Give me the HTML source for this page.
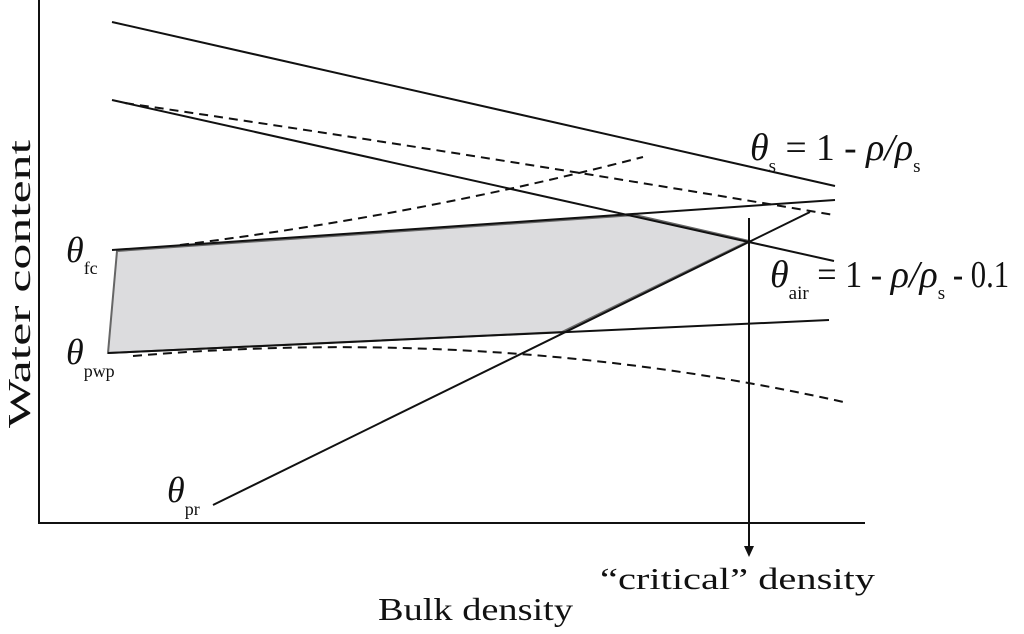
<!DOCTYPE html><html><head><style>body{margin:0;background:#fff}svg{display:block}text{font-family:"Liberation Serif",serif;fill:#111}</style></head><body>
<svg width="1024" height="634" viewBox="0 0 1024 634" xmlns="http://www.w3.org/2000/svg">
<g stroke="#111" stroke-width="2" fill="none">
<polyline points="39,0 39,523 865,523"/>
<polygon points="117,251 635,215 749,241 562,332 108,353" fill="#dcdcde" stroke="#666" stroke-width="2"/>
<line x1="112" y1="22" x2="835" y2="186"/>
<line x1="112" y1="100" x2="834" y2="261"/>
<line x1="112" y1="250" x2="835" y2="200"/>
<line x1="108" y1="353" x2="829" y2="320"/>
<line x1="213" y1="505" x2="810" y2="212"/>
<line x1="749" y1="218" x2="749" y2="548"/>
<g stroke-dasharray="9,6">
<path d="M125,103 Q480,155 834,215"/>
<path d="M180,245 Q420,215 643,157"/>
<path d="M133,356 Q500,325 848,403"/>
</g>
</g>
<polygon points="744,546 754,546 749,557" fill="#111"/>
<text x="750" y="160" font-size="38"><tspan font-style="italic">θ</tspan><tspan font-size="19" dy="12">s</tspan><tspan dy="-12" textLength="90" lengthAdjust="spacingAndGlyphs"> = 1 - </tspan><tspan font-style="italic">ρ/ρ</tspan><tspan font-size="19" dy="12">s</tspan></text>
<text x="770" y="287" font-size="38"><tspan font-style="italic">θ</tspan><tspan font-size="19" dy="12">air</tspan><tspan dy="-12" textLength="82" lengthAdjust="spacingAndGlyphs"> = 1 - </tspan><tspan font-style="italic">ρ/ρ</tspan><tspan font-size="19" dy="12">s</tspan><tspan dy="-12" textLength="64" lengthAdjust="spacingAndGlyphs"> - 0.1</tspan></text>
<text x="66" y="262" font-size="36"><tspan font-style="italic">θ</tspan><tspan font-size="18" dy="12">fc</tspan></text>
<text x="66" y="364" font-size="36"><tspan font-style="italic">θ</tspan><tspan font-size="18" dy="13">pwp</tspan></text>
<text x="167" y="502" font-size="36"><tspan font-style="italic">θ</tspan><tspan font-size="18" dy="13">pr</tspan></text>
<text x="600" y="589" font-size="31" textLength="275" lengthAdjust="spacingAndGlyphs">“critical” density</text>
<text x="378" y="620" font-size="32" textLength="195" lengthAdjust="spacingAndGlyphs">Bulk density</text>
<text transform="translate(30,428) rotate(-90)" font-size="32" textLength="288" lengthAdjust="spacingAndGlyphs">Water content</text>
</svg>
</body></html>
